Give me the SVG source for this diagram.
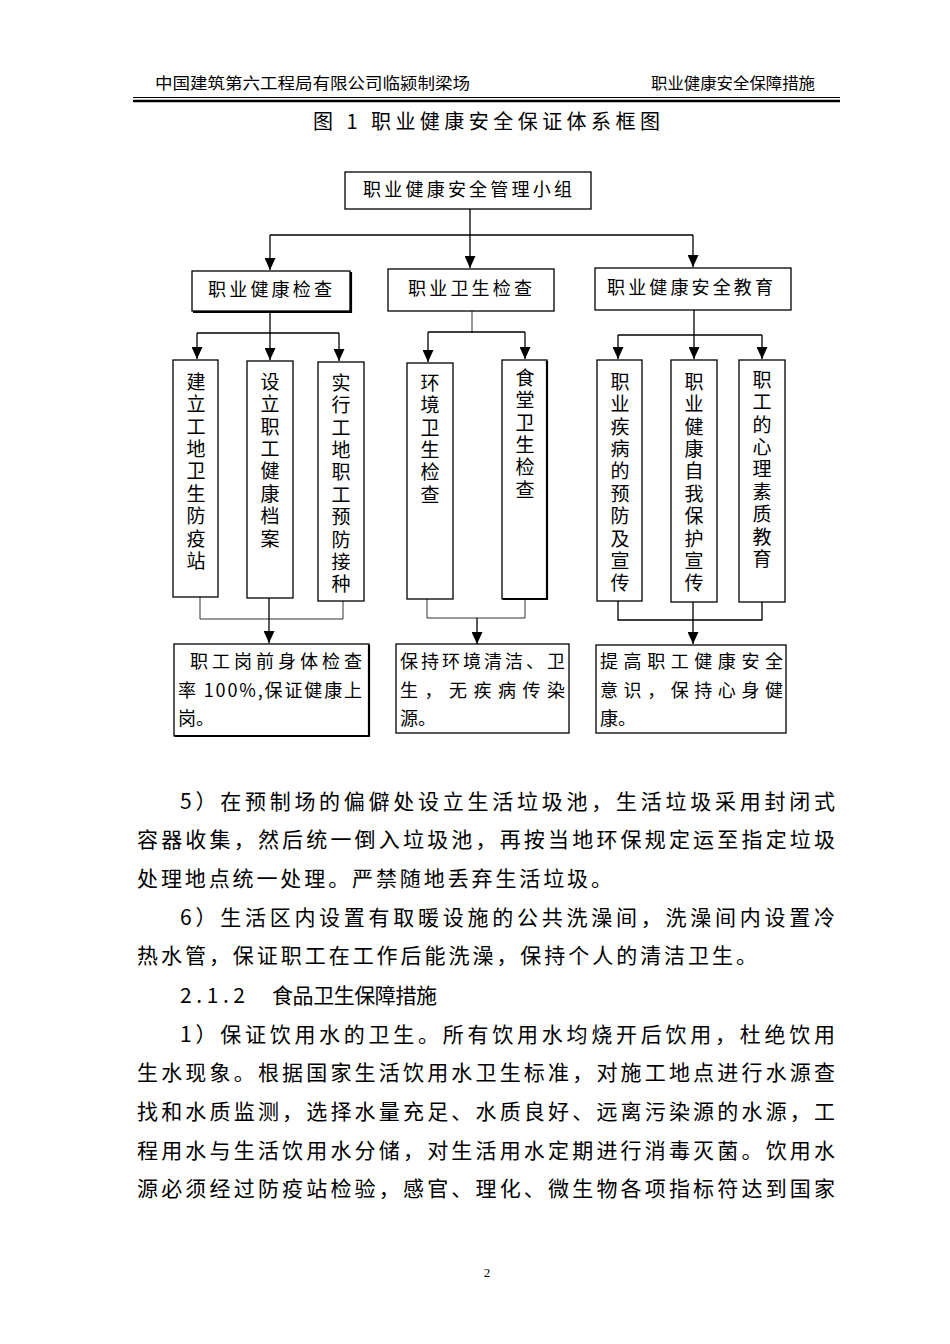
<svg xmlns="http://www.w3.org/2000/svg" width="950" height="1344" viewBox="0 0 950 1344">
<defs>
<style>
.cjk{font-family:"Noto Sans CJK SC","Liberation Sans",sans-serif;fill:#000}
.box{fill:#fff;stroke:#000;stroke-width:1.3}
.shadow{fill:none;stroke:#000;stroke-width:2.2}
.ln{fill:none;stroke:#000;stroke-width:1.3}
.thin{fill:none;stroke:#333;stroke-width:1}
.lbl{font-size:18px}
.vt{font-size:19px;writing-mode:vertical-rl;text-orientation:upright;letter-spacing:3.4px}
.body{font-size:21px}
</style>
<marker id="arr" markerUnits="userSpaceOnUse" markerWidth="13" markerHeight="11" refX="12" refY="5.5" orient="auto" viewBox="0 0 12 11">
<path d="M0,0 L12,5.5 L0,11 Z" fill="#000"/>
</marker>
</defs>
<rect width="950" height="1344" fill="#fff"/>

<g id="header">
<text class="cjk" x="155" y="89" font-size="16" textLength="315" lengthAdjust="spacingAndGlyphs">中国建筑第六工程局有限公司临颍制梁场</text>
<text class="cjk" x="651" y="89" font-size="16" textLength="164" lengthAdjust="spacingAndGlyphs">职业健康安全保障措施</text>
<line x1="133" y1="97.5" x2="840" y2="97.5" stroke="#000" stroke-width="1"/>
<line x1="133" y1="101" x2="840" y2="101" stroke="#000" stroke-width="2.6"/>
</g>

<g id="title">
<text class="cjk" x="313" y="129" font-size="20" textLength="347" lengthAdjust="spacing">图 1 职业健康安全保证体系框图</text>
</g>

<g id="connectors">
<line class="ln" x1="470" y1="209" x2="470" y2="268" marker-end="url(#arr)"/>
<line class="ln" x1="270" y1="235" x2="693" y2="235"/>
<line class="ln" x1="270" y1="235" x2="270" y2="270" marker-end="url(#arr)"/>
<line class="ln" x1="693" y1="235" x2="693" y2="267" marker-end="url(#arr)"/>
<line class="ln" x1="270" y1="311" x2="270" y2="360" marker-end="url(#arr)"/>
<line class="ln" x1="197" y1="333" x2="339" y2="333"/>
<line class="ln" x1="197" y1="333" x2="197" y2="359" marker-end="url(#arr)"/>
<line class="ln" x1="339" y1="333" x2="339" y2="361" marker-end="url(#arr)"/>
<line class="thin" x1="472" y1="311" x2="472" y2="333"/>
<line class="ln" x1="428" y1="332" x2="525" y2="332"/>
<line class="ln" x1="428" y1="332" x2="428" y2="362" marker-end="url(#arr)"/>
<line class="ln" x1="525" y1="332" x2="525" y2="359" marker-end="url(#arr)"/>
<line class="ln" x1="694" y1="310" x2="694" y2="359" marker-end="url(#arr)"/>
<line class="ln" x1="618" y1="335" x2="762" y2="335"/>
<line class="ln" x1="618" y1="335" x2="618" y2="359" marker-end="url(#arr)"/>
<line class="ln" x1="762" y1="335" x2="762" y2="359" marker-end="url(#arr)"/>
<polyline class="thin" points="200,597 200,619 343,619 343,601"/>
<line class="ln" x1="269" y1="598" x2="269" y2="643" marker-end="url(#arr)"/>
<polyline class="thin" points="427,599 427,618 525,618 525,599"/>
<line class="ln" x1="477" y1="618" x2="477" y2="644" marker-end="url(#arr)"/>
<polyline class="ln" points="618,601 618,620 762,620 762,602" stroke-width="1.8"/>
<line class="ln" x1="693" y1="602" x2="693" y2="644" marker-end="url(#arr)"/>
</g>

<g id="n-root">
<rect class="box" x="345" y="172" width="246" height="37"/>
<text class="cjk lbl" x="363" y="196" textLength="209" lengthAdjust="spacing">职业健康安全管理小组</text>
</g>

<g id="n-health-check">
<rect class="box" x="192" y="271" width="158" height="40"/>
<polyline class="shadow" points="351,272 351,312 193,312"/>
<text class="cjk lbl" x="208" y="296" textLength="124" lengthAdjust="spacing">职业健康检查</text>
</g>
<g id="n-hygiene-check">
<rect class="box" x="388" y="269" width="166" height="42"/>
<text class="cjk lbl" x="408" y="295" textLength="124" lengthAdjust="spacing">职业卫生检查</text>
</g>
<g id="n-education">
<rect class="box" x="595" y="268" width="196" height="42"/>
<text class="cjk lbl" x="607" y="294" textLength="166" lengthAdjust="spacing">职业健康安全教育</text>
</g>

<g id="n-a">
<rect class="box" x="173" y="360" width="45" height="237"/>
<text class="cjk vt" x="196" y="372">建立工地卫生防疫站</text>
</g>
<g id="n-b">
<rect class="box" x="247" y="361" width="46" height="237"/>
<text class="cjk vt" x="270" y="372">设立职工健康档案</text>
</g>
<g id="n-c">
<rect class="box" x="318" y="362" width="46" height="239"/>
<text class="cjk vt" x="341" y="373">实行工地职工预防接种</text>
</g>
<g id="n-d">
<rect class="box" x="407" y="363" width="46" height="236" stroke-width="2"/>
<text class="cjk vt" x="430" y="373">环境卫生检查</text>
</g>
<g id="n-e">
<rect class="box" x="502" y="360" width="45" height="239"/>
<polyline class="shadow" points="547,361 547,599 503,599"/>
<text class="cjk vt" x="525" y="368">食堂卫生检查</text>
</g>
<g id="n-f">
<rect class="box" x="597" y="360" width="45" height="241"/>
<text class="cjk vt" x="620" y="372">职业疾病的预防及宣传</text>
</g>
<g id="n-g">
<rect class="box" x="671" y="360" width="46" height="242"/>
<text class="cjk vt" x="694" y="372">职业健康自我保护宣传</text>
</g>
<g id="n-h">
<rect class="box" x="739" y="360" width="46" height="242"/>
<text class="cjk vt" x="762" y="370">职工的心理素质教育</text>
</g>

<g id="n-result1">
<rect class="box" x="174" y="644" width="195" height="92"/>
<polyline class="shadow" points="369,645 369,736 175,736"/>
<text class="cjk lbl" x="190" y="668" textLength="172" lengthAdjust="spacing">职工岗前身体检查</text>
<text class="cjk lbl" x="178" y="697" textLength="184" lengthAdjust="spacing">率 100%,保证健康上</text>
<text class="cjk lbl" x="178" y="725">岗。</text>
</g>
<g id="n-result2">
<rect class="box" x="396" y="644" width="173" height="89"/>
<text class="cjk lbl" x="400" y="668" textLength="165" lengthAdjust="spacing">保持环境清洁、卫</text>
<text class="cjk lbl" x="400" y="697" textLength="165" lengthAdjust="spacing">生，无疾病传染</text>
<text class="cjk lbl" x="400" y="725">源。</text>
</g>
<g id="n-result3">
<rect class="box" x="596" y="645" width="190" height="88"/>
<text class="cjk lbl" x="600" y="668" textLength="183" lengthAdjust="spacing">提高职工健康安全</text>
<text class="cjk lbl" x="600" y="697" textLength="183" lengthAdjust="spacing">意识，保持心身健</text>
<text class="cjk lbl" x="600" y="725">康。</text>
</g>

<g id="body">
<text class="cjk body" x="180" y="809" textLength="655" lengthAdjust="spacing">5）在预制场的偏僻处设立生活垃圾池，生活垃圾采用封闭式</text>
<text class="cjk body" x="137" y="847" textLength="698" lengthAdjust="spacing">容器收集，然后统一倒入垃圾池，再按当地环保规定运至指定垃圾</text>
<text class="cjk body" x="137" y="886" textLength="475" lengthAdjust="spacing">处理地点统一处理。严禁随地丢弃生活垃圾。</text>
<text class="cjk body" x="180" y="925" textLength="655" lengthAdjust="spacing">6）生活区内设置有取暖设施的公共洗澡间，洗澡间内设置冷</text>
<text class="cjk body" x="137" y="963" textLength="620" lengthAdjust="spacing">热水管，保证职工在工作后能洗澡，保持个人的清洁卫生。</text>
<text class="cjk body" x="180" y="1003" textLength="65" lengthAdjust="spacing">2.1.2</text>
<text class="cjk body" x="272" y="1003" textLength="165" lengthAdjust="spacing">食品卫生保障措施</text>
<text class="cjk body" x="180" y="1042" textLength="655" lengthAdjust="spacing">1）保证饮用水的卫生。所有饮用水均烧开后饮用，杜绝饮用</text>
<text class="cjk body" x="137" y="1080" textLength="698" lengthAdjust="spacing">生水现象。根据国家生活饮用水卫生标准，对施工地点进行水源查</text>
<text class="cjk body" x="137" y="1119" textLength="698" lengthAdjust="spacing">找和水质监测，选择水量充足、水质良好、远离污染源的水源，工</text>
<text class="cjk body" x="137" y="1158" textLength="698" lengthAdjust="spacing">程用水与生活饮用水分储，对生活用水定期进行消毒灭菌。饮用水</text>
<text class="cjk body" x="137" y="1196" textLength="698" lengthAdjust="spacing">源必须经过防疫站检验，感官、理化、微生物各项指标符达到国家</text>
</g>

<g id="footer">
<text x="487" y="1277" font-family="Liberation Serif, serif" font-size="13" text-anchor="middle">2</text>
</g>
</svg>
